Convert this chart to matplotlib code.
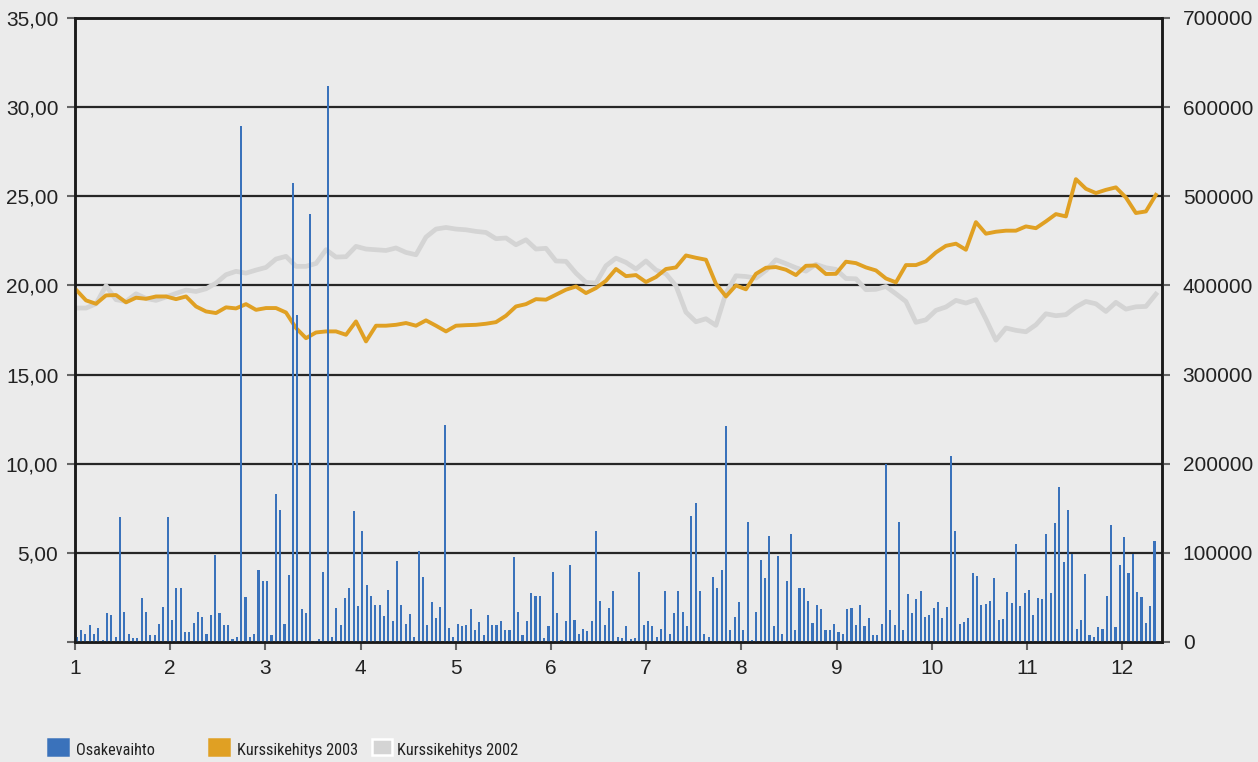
import numpy as np
import matplotlib
matplotlib.use("Agg")
import matplotlib.pyplot as plt
from matplotlib.patches import Rectangle
from matplotlib import font_manager

# daily share volume (right axis)
osakevaihto = [6000, 14000, 9500, 18500, 9500, 16000, 2000, 33000, 30000, 6000,
               140000, 34000, 8500, 5000, 5000, 49000, 34000, 7500, 7500, 20000,
               39000, 140000, 25000, 61000, 61000, 11000, 11000, 21000, 34000, 28000,
               8500, 30000, 98000, 33000, 18500, 18500, 3000, 6000, 579000, 50000,
               6000, 9500, 81000, 68000, 68000, 7500, 166000, 148000, 20000, 75000,
               515000, 367000, 37000, 33000, 480000, 1000, 3000, 79000, 624000, 6000,
               38000, 18500, 49000, 61000, 147000, 40000, 124000, 64000, 52000, 42000,
               42000, 29000, 58000, 23000, 90500, 42000, 20000, 31000, 6000, 102000,
               72500, 18500, 44500, 26500, 39000, 243000, 16000, 6000, 20000, 17500,
               18500, 37000, 13000, 22000, 7500, 30000, 18500, 18500, 23000, 13000,
               13000, 95000, 34000, 7500, 24000, 54500, 52000, 52000, 4000, 17500,
               79000, 33000, 2000, 23000, 86000, 25000, 9500, 15000, 12000, 23000,
               125000, 45500, 18500, 38000, 57000, 6000, 4000, 17500, 3000, 4000,
               78000, 18500, 23000, 17500, 6000, 15000, 57000, 8500, 33000, 57000,
               34000, 17500, 141000, 155500, 57000, 8500, 6000, 72500, 61000, 80500,
               242000, 13000, 27500, 44500, 13000, 135000, 2000, 34000, 91500, 71500,
               118500, 17500, 97000, 9500, 68000, 121000, 14000, 60000, 61000, 45500,
               21000, 41000, 37000, 14000, 13000, 20000, 11000, 9500, 37000, 38000,
               18500, 41000, 17500, 26500, 7500, 7500, 20000, 199500, 35500, 18500,
               135000, 14000, 53500, 32000, 48000, 57000, 27500, 30000, 38000, 44500,
               26500, 39000, 209000, 125000, 20000, 22000, 26500, 77000, 73500, 41500,
               42500, 46000, 72000, 24500, 26000, 56000, 44000, 110000, 40500, 55000,
               58500, 30500, 49500, 48500, 121000, 55000, 133500, 174000, 90000, 148000,
               99000, 14500, 24500, 76000, 8000, 5500, 17000, 14500, 51500, 131000,
               17000, 86500, 118000, 77500, 99000, 56000, 50500, 21000, 40500, 113500]

kurssi_2003 = [19.76, 19.16, 18.97, 19.44, 19.46, 19.05, 19.31, 19.25, 19.38, 19.38,
               19.23, 19.38, 18.82, 18.54, 18.45, 18.77, 18.71, 18.95, 18.63, 18.73,
               18.73, 18.48, 17.61, 17.04, 17.36, 17.42, 17.42, 17.23,
               17.98, 16.86, 17.74, 17.74, 17.79, 17.89, 17.74, 18.04, 17.74, 17.42,
               17.74, 17.77, 17.79, 17.85, 17.94, 18.30, 18.82, 18.95, 19.23, 19.20,
               19.48, 19.76, 19.94, 19.57, 19.85, 20.26, 20.92,
               20.52, 20.58, 20.19, 20.47, 20.92, 21.01, 21.68, 21.55, 21.44, 20.09,
               19.38, 20.00, 19.78, 20.65, 20.99, 21.03, 20.88, 20.58, 21.10, 21.12,
               20.64, 20.65, 21.33, 21.25, 21.01, 20.84, 20.39,
               20.17, 21.14, 21.14, 21.35, 21.85, 22.22, 22.34, 22.00, 23.55, 22.90,
               23.01, 23.07, 23.07, 23.31, 23.21, 23.59, 24.00, 23.87, 25.96, 25.42,
               25.18, 25.36, 25.50, 24.93, 24.06, 24.15, 25.08]

kurssi_2002 = [18.73, 18.73, 18.97, 19.98, 19.20, 19.10, 19.53, 19.27, 19.16, 19.35,
               19.55, 19.74, 19.66, 19.81, 20.13, 20.60, 20.79, 20.69, 20.86, 21.01,
               21.48, 21.63, 21.07, 21.07, 21.23, 22.00, 21.59, 21.61,
               22.19, 22.04, 22.00, 21.96, 22.10, 21.85, 21.72, 22.71, 23.16, 23.25,
               23.16, 23.12, 23.03, 22.97, 22.62, 22.66, 22.28, 22.56, 22.04, 22.08,
               21.37, 21.35, 20.69, 20.17, 20.13, 21.10, 21.53,
               21.29, 20.92, 21.37, 20.86, 20.65, 19.98, 18.50, 17.96, 18.13, 17.76,
               19.57, 20.54, 20.50, 20.41, 20.84, 21.44, 21.22, 20.99, 20.80, 21.18,
               20.99, 20.90, 20.39, 20.37, 19.76, 19.78, 19.94,
               19.53, 19.10, 17.93, 18.07, 18.60, 18.79, 19.16, 19.01, 19.20, 18.11,
               16.93, 17.61, 17.48, 17.40, 17.79, 18.41, 18.30, 18.36, 18.79, 19.10,
               18.97, 18.54, 19.05, 18.67, 18.80, 18.82, 19.51]

months = list(range(1, 13))
left_ticks = [0, 5, 10, 15, 20, 25, 30, 35]
right_ticks = [0, 100000, 200000, 300000, 400000, 500000, 600000, 700000]
legend_labels = ["Osakevaihto", "Kurssikehitys 2003", "Kurssikehitys 2002"]

bg = "#ebebeb"
blue = "#3a72bb"
orange = "#e0a023"
grey = "#d4d4d4"
txt = "#222222"

plt.rcParams["font.family"] = ["Liberation Sans", "DejaVu Sans"]

# legend text is condensed in the original; use a narrow face if one exists
installed = {f.name for f in font_manager.fontManager.ttflist}
narrow = [n for n in ["Liberation Sans Narrow", "Roboto Condensed", "Open Sans Condensed"]
          if n in installed]
leg_family = [narrow[0] if narrow else "Liberation Sans", "DejaVu Sans"]

fig = plt.figure(figsize=(12.58, 7.62), dpi=100, facecolor=bg)
ax = fig.add_axes([0.0596, 0.1575, 0.864, 0.8189])
ax.set_facecolor(bg)
ax2 = ax.twinx()

x_bar = np.linspace(1.018, 12.34, len(osakevaihto))
x_line = np.linspace(1.011, 12.355, len(kurssi_2003))

for y in left_ticks[1:-1]:
    ax.axhline(y, color="#262626", lw=1.6, zorder=1)

ax.plot(x_line, kurssi_2002, color=grey, lw=3.4, zorder=2)
ax.plot(x_line, kurssi_2003, color=orange, lw=2.8, zorder=3)
ax2.bar(x_bar, osakevaihto, width=0.022, color=blue, zorder=2)

ax.set_xlim(1, 12.418)
ax.set_ylim(0, 35)
ax2.set_ylim(0, 700000)

ax.set_xticks(months)
ax.set_xticklabels([str(m) for m in months])
ax.set_yticks(left_ticks)
ax.set_yticklabels([""] + ["{:.2f}".format(v).replace(".", ",") for v in left_ticks[1:]])
ax2.set_yticks(right_ticks)
ax2.set_yticklabels([str(v) for v in right_ticks])

for a in (ax, ax2):
    for s in a.spines.values():
        s.set_color("#1a1a1a")
        s.set_linewidth(1.8)
    a.tick_params(length=6, width=1.5, color="#666666", labelsize=15, labelcolor=txt)
ax.tick_params(axis="y", pad=6)
ax.tick_params(axis="x", pad=6)
ax2.tick_params(axis="y", pad=9)

# legend drawn by hand: fixed columns like the original
swatches = [(blue, blue), (orange, orange), (grey, "white")]
box_x = [0.0381, 0.1661, 0.2960]
text_x = [0.0604, 0.1884, 0.3156]
labels = []
for label, (fc, ec), bx, tx in zip(legend_labels, swatches, box_x, text_x):
    fig.add_artist(Rectangle((bx, 0.0092), 0.0157, 0.021, transform=fig.transFigure,
                             facecolor=fc, edgecolor=ec, linewidth=1.8))
    labels.append(fig.text(tx, 0.0092, label, ha="left", va="baseline", color=txt,
                           family=leg_family, size=14))

# shrink the legend font so the longest label fits its column (~122 px)
renderer = fig.canvas.get_renderer()
widest = max(t.get_window_extent(renderer).width for t in labels)
if widest > 122:
    for t in labels:
        t.set_fontsize(14 * 122 / widest)

plt.savefig("out.png", dpi=100, facecolor=bg)
